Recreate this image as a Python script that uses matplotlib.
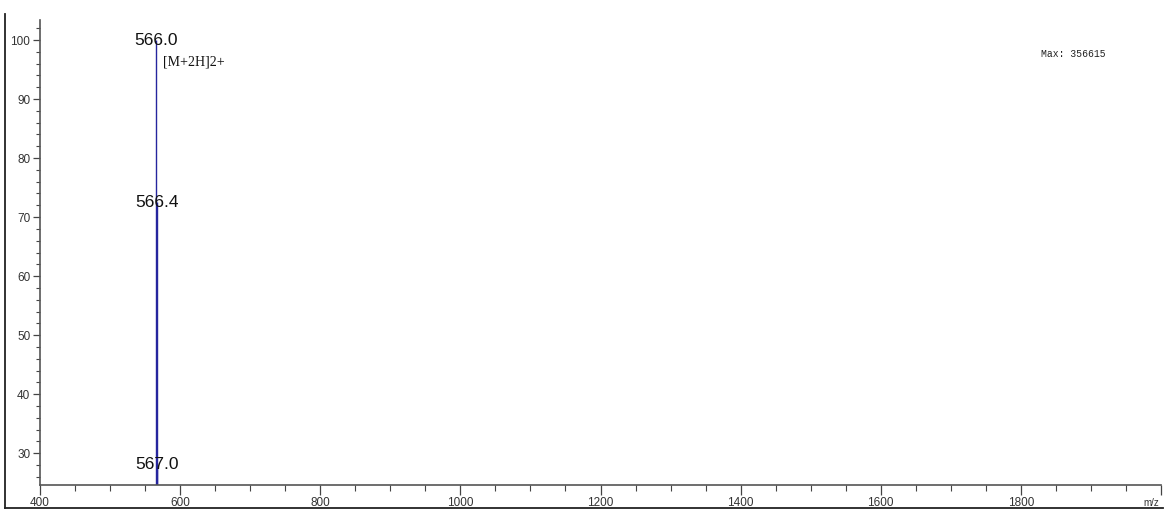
import matplotlib.pyplot as plt
from matplotlib.lines import Line2D
from matplotlib.ticker import MultipleLocator
from matplotlib import font_manager

# peak data
mz = [566.0, 566.4, 567.0]
intensity = [100, 72.5, 28.0]
peak_labels = ['566.0', '566.4', '567.0']
ion_note = '[M+2H]2+'
max_text = 'Max: 356615'

names = {f.name for f in font_manager.fontManager.ttflist}
narrow = 'Liberation Sans Narrow' if 'Liberation Sans Narrow' in names else 'Liberation Sans'

fig = plt.figure(figsize=(11.72, 5.14), dpi=100)
ax = fig.add_axes([40 / 1172, 29 / 514, 1121 / 1172, 465 / 514])

# spectrum sticks
ax.vlines(mz, 0, intensity, color='#25259e', linewidth=1.0)

for x, y, s in zip(mz, intensity, peak_labels):
    ax.text(x, y, s, ha='center', va='center', fontsize=12.5,
            family=narrow, color='#111111')

ax.annotate(ion_note, xy=(mz[0], intensity[0]), xytext=(5, -16),
            textcoords='offset points', fontsize=10, family='Liberation Serif',
            ha='left', va='center', color='#111111')

ax.text(0.9215, 0.927, max_text, transform=ax.transAxes, fontsize=7,
        family='Liberation Mono', color='#222222', ha='center', va='center')

ax.set_xlim(400, 2000)
ax.set_ylim(24.6, 103.4)
ax.xaxis.set_major_locator(MultipleLocator(200))
ax.xaxis.set_minor_locator(MultipleLocator(50))
ax.yaxis.set_major_locator(MultipleLocator(10))
ax.yaxis.set_minor_locator(MultipleLocator(2))

ax.spines['top'].set_visible(False)
ax.spines['right'].set_visible(False)
for sp in ('left', 'bottom'):
    ax.spines[sp].set_color('#555555')
    ax.spines[sp].set_linewidth(1.2)

ax.tick_params(which='major', length=5, width=0.9, color='#444444',
               labelsize=8.5, labelcolor='#333333', pad=2)
ax.tick_params(which='minor', length=3, width=0.8, color='#444444')
ax.tick_params(axis='x', which='major', length=7)
ax.tick_params(axis='x', which='minor', length=4)

# hide the 2000 label, the m/z unit sits there instead
ticks = list(ax.get_xticks())
labels = [str(int(v)) if v < 2000 else '' for v in ticks]
ax.set_xticks(ticks)
ax.set_xticklabels(labels, family=narrow)
ax.set_xlim(400, 2000)
for lab in ax.get_yticklabels():
    lab.set_family(narrow)
ax.text(0.998, -0.028, 'm/z', transform=ax.transAxes, fontsize=7,
        family=narrow, color='#333333', ha='right', va='top')

# outer frame on left and bottom
fig.add_artist(Line2D([5 / 1172, 5 / 1172], [6 / 514, 500 / 514],
                      color='#222222', linewidth=1.3))
fig.add_artist(Line2D([5 / 1172, 1163 / 1172], [6 / 514, 6 / 514],
                      color='#222222', linewidth=1.3))

fig.savefig('out.png', dpi=100)
